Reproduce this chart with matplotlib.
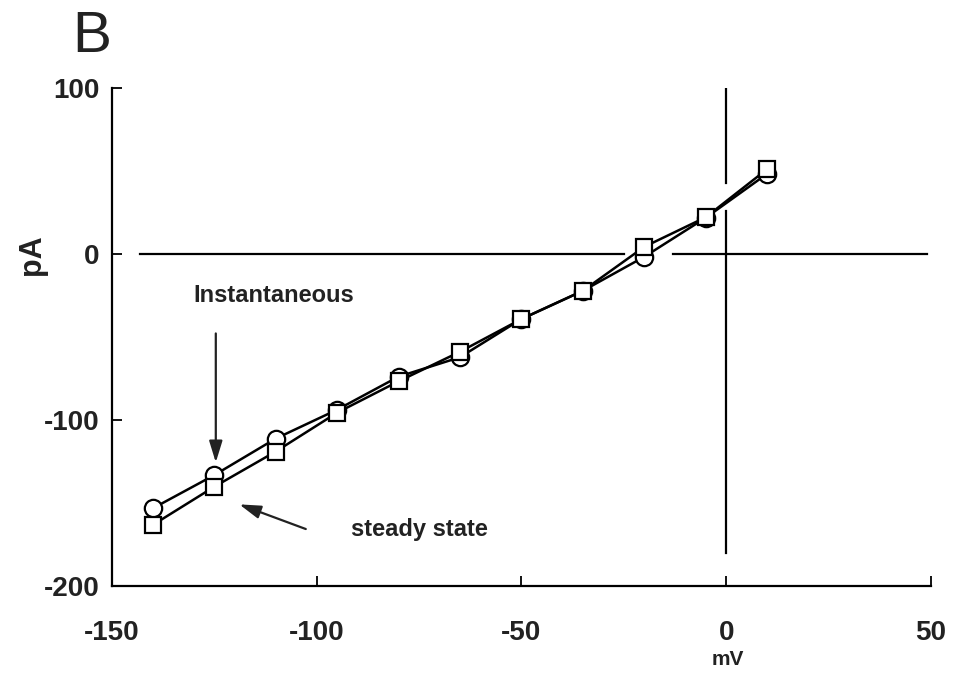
import matplotlib
matplotlib.use("Agg")
import matplotlib.pyplot as plt

voltage_mV = [-140, -125, -110, -95, -80, -65, -50, -35, -20, -5, 10]
instantaneous_pA = [-153, -133, -111, -93.6, -73.7, -62, -39, -22, -1.5, 22, 48.5]
steady_state_pA = [-163, -140, -118.8, -95.4, -76.5, -58.7, -39, -22, 4.5, 22.3, 51.3]

x_ticks = [-150, -100, -50, 0, 50]
y_ticks = [-200, -100, 0, 100]

plt.rcParams['font.family'] = ['Liberation Sans', 'DejaVu Sans']
plt.rcParams['axes.unicode_minus'] = False

fig = plt.figure(figsize=(9.55, 6.78), dpi=100)
ax = fig.add_axes([0.117, 0.135, 0.858, 0.735])

ax.set_xlim(-150, 50)
ax.set_ylim(-200, 100)

# reference lines (axis crosshair)
ax.plot([-143, -25], [0, 0], color='black', lw=1.6, zorder=1)
ax.plot([-13, 49], [0, 0], color='black', lw=1.6, zorder=1)
ax.plot([0, 0], [106, 43], color='black', lw=1.6, zorder=1)
ax.plot([0, 0], [26, -180], color='black', lw=1.6, zorder=1)

ax.plot(voltage_mV, instantaneous_pA, color='black', lw=1.8, marker='o', ms=12.5,
        mfc='white', mec='black', mew=1.6, zorder=3)
ax.plot(voltage_mV, steady_state_pA, color='black', lw=1.8, marker='s', ms=12,
        mfc='white', mec='black', mew=1.6, zorder=4)

ax.annotate('', xy=(-124.6, -127), xytext=(-124.6, -46),
            arrowprops=dict(arrowstyle='-|>,head_length=1.3,head_width=0.4',
                            color='#222222', lw=1.6))
ax.text(-110.5, -25, 'Instantaneous', fontsize=17, fontweight='bold',
        ha='center', va='center', color='#222222')
ax.annotate('', xy=(-119.5, -150), xytext=(-102, -166),
            arrowprops=dict(arrowstyle='-|>,head_length=1.3,head_width=0.4',
                            color='#222222', lw=1.6))
ax.text(-75, -166, 'steady state', fontsize=17, fontweight='bold',
        ha='center', va='center', color='#222222')

for s in ['top', 'right']:
    ax.spines[s].set_visible(False)
for s in ['left', 'bottom']:
    ax.spines[s].set_linewidth(1.6)

ax.set_xticks(x_ticks)
ax.set_yticks(y_ticks)
ax.tick_params(axis='x', direction='in', length=7, width=1.3, labelsize=20, pad=24)
ax.tick_params(axis='y', direction='in', length=7, width=1.3, labelsize=20, pad=9)
for lab in ax.get_xticklabels() + ax.get_yticklabels():
    lab.set_fontweight('bold')
    lab.set_color('#222222')

fig.text(0.033, 0.624, 'pA', fontsize=22, fontweight='bold', rotation=90,
         ha='center', va='center', color='#222222')
fig.text(0.762, 0.027, 'mV', fontsize=15, fontweight='bold', ha='center', va='center', color='#222222')
fig.text(0.096, 0.945, 'B', fontsize=42, ha='center', va='center', color='#222222')

fig.savefig('out.png', dpi=100)
